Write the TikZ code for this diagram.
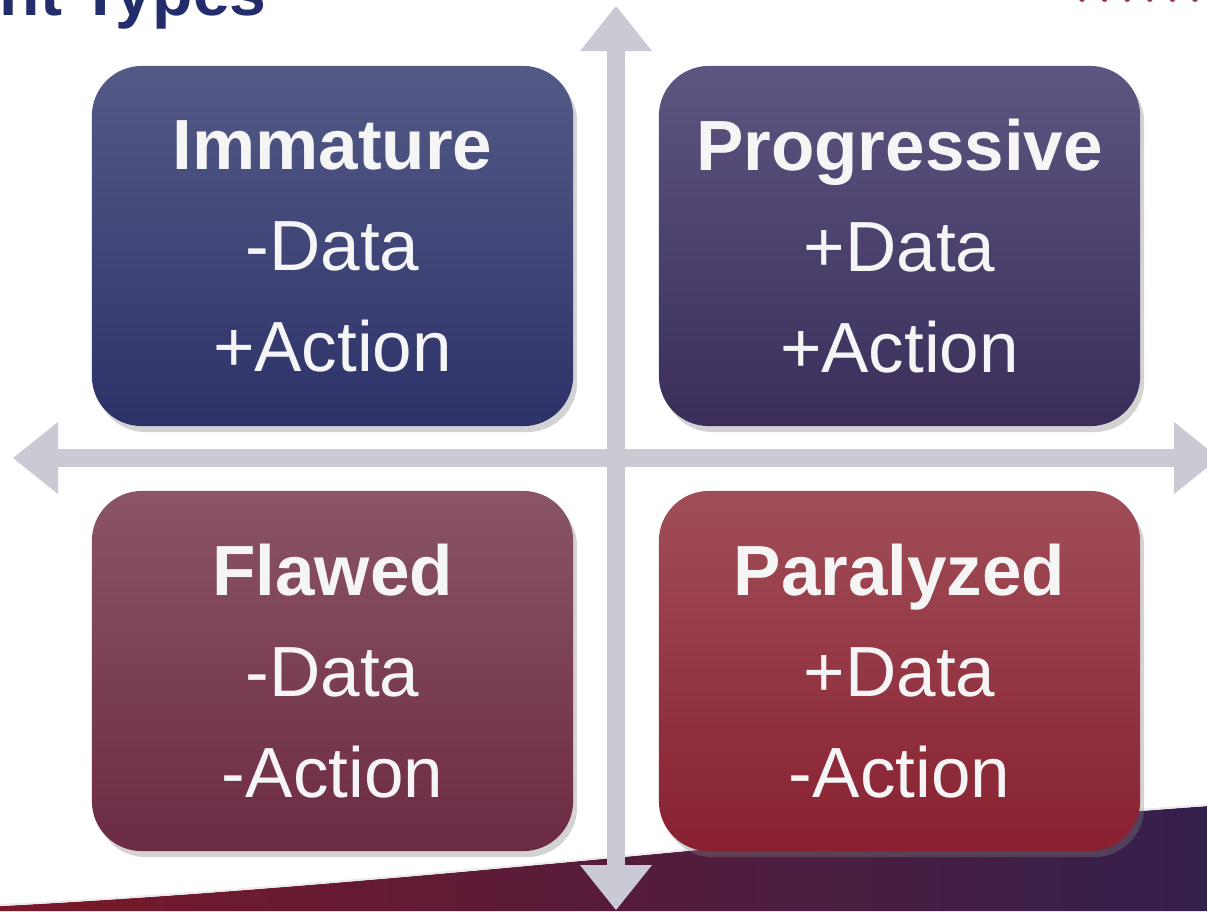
\documentclass[tikz,border=0pt]{standalone}
\usepackage{fontspec}
\setmainfont{Liberation Sans}
\usetikzlibrary{arrows.meta,shadows}
\definecolor{axisgray}{RGB}{201,202,211}
\definecolor{boxtext}{RGB}{245,245,245}
\definecolor{titleblue}{RGB}{35,45,107}
\definecolor{dotred}{RGB}{150,60,85}
\begin{document}
\begin{tikzpicture}[x=0.01cm,y=-0.01cm,
  quad/.style={rounded corners=0.5cm,minimum width=4.81cm,minimum height=3.6cm,
    text=boxtext,align=center,inner sep=0pt,
    font=\fontsize{20.2}{28.7}\selectfont,
    drop shadow={shadow xshift=0.04cm,shadow yshift=-0.06cm,opacity=0.35}},
  axisarrow/.style={draw=axisgray,line width=0.18cm,
    {Triangle[length=0.45cm,width=0.72cm,line width=0pt]}-{Triangle[length=0.45cm,width=0.72cm,line width=0pt]}}]
  \useasboundingbox (0,0) rectangle (1207,911);
  \clip (0,0) rectangle (1207,911);
  \shade[left color={rgb,255:red,122;green,24;blue,40},middle color={rgb,255:red,86;green,26;blue,56},right color={rgb,255:red,52;green,32;blue,76}]
    (0,906) .. controls (400,885) and (800,835) .. (1207,806) -- (1207,911) -- (0,911) -- cycle;
  \draw[white!85!gray,line width=0.6pt] (0,905) .. controls (400,884) and (800,834) .. (1207,805);
  \foreach \i in {0,...,5}
    \fill[dotred] (1082+22.6*\i,-1) circle (3);
  \node[anchor=base west,inner sep=0pt,text=titleblue,font=\bfseries\fontsize{18.8}{20}\selectfont] (title) at (-1,15) {nt Types};
  \coordinate (top) at (616,6);
  \coordinate (bottom) at (616,910);
  \coordinate (left) at (13,458);
  \coordinate (right) at (1219,458);
  \draw[axisarrow] (bottom) -- (top);
  \draw[axisarrow] (left) -- (right);
  \node[quad,top color={rgb,255:red,84;green,90;blue,134},bottom color={rgb,255:red,44;green,50;blue,104}] (immature) at (332.5,246)
    {\textbf{Immature}\\-Data\\+Action};
  \node[quad,top color={rgb,255:red,94;green,85;blue,128},bottom color={rgb,255:red,58;green,45;blue,90}] (progressive) at (899.5,246)
    {\textbf{Progressive}\\+Data\\+Action};
  \node[quad,top color={rgb,255:red,138;green,85;blue,101},bottom color={rgb,255:red,108;green,42;blue,68}] (flawed) at (332.5,671)
    {\textbf{Flawed}\\-Data\\-Action};
  \node[quad,top color={rgb,255:red,160;green,78;blue,88},bottom color={rgb,255:red,136;green,32;blue,48}] (paralyzed) at (899.5,671)
    {\textbf{Paralyzed}\\+Data\\-Action};
\end{tikzpicture}
\end{document}
